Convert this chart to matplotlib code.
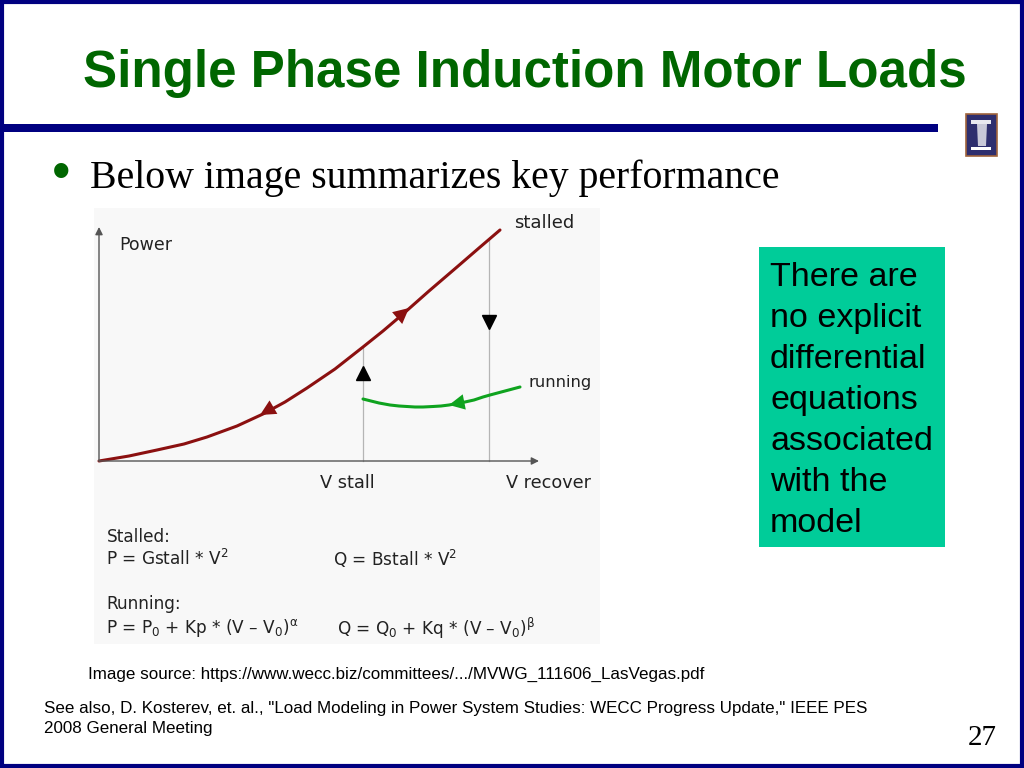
import matplotlib
matplotlib.use("Agg")
import matplotlib.pyplot as plt
from matplotlib.patches import Rectangle, Polygon

plt.rcParams["mathtext.default"] = "regular"

# Datos (V y potencia en unidades arbitrarias)
stalled_v = [0, 0.30, 0.58, 0.85, 1.08, 1.38, 1.64, 1.86, 2.08, 2.36, 2.64, 2.84, 3.04, 3.30, 3.58, 3.80, 4.01]
stalled_p = [0, 0.05, 0.11, 0.17, 0.24, 0.35, 0.47, 0.59, 0.73, 0.92, 1.14, 1.30, 1.47, 1.70, 1.94, 2.13, 2.31]
running_v = [2.64, 2.72, 2.80, 2.91, 3.00, 3.08, 3.16, 3.24, 3.34, 3.42, 3.50, 3.58, 3.66, 3.75, 3.84, 3.91, 4.06, 4.21]
running_p = [0.62, 0.60, 0.58, 0.56, 0.55, 0.545, 0.54, 0.54, 0.545, 0.55, 0.56, 0.575, 0.59, 0.61, 0.64, 0.66, 0.70, 0.74]
v_stall = 2.64
v_recover = 3.90
p_at_stall = 1.14
p_at_recover = 2.21

title = "Single Phase Induction Motor Loads"
bullet_text = "Below image summarizes key performance"
box_lines = ["There are", "no explicit", "differential", "equations", "associated", "with the", "model"]
source_text = "Image source: https://www.wecc.biz/committees/.../MVWG_111606_LasVegas.pdf"
see_also = ['See also, D. Kosterev, et. al., "Load Modeling in Power System Studies: WECC Progress Update," IEEE PES',
            "2008 General Meeting"]
page = "27"

navy = "#000080"
dark_red = "#8B1010"
green = "#0FA31F"
W, H = 1024, 768

fig = plt.figure(figsize=(W / 100, H / 100), dpi=100)

# Capa de la diapositiva, en pixeles
bg = fig.add_axes([0, 0, 1, 1])
bg.set_xlim(0, W)
bg.set_ylim(H, 0)
bg.axis("off")

bg.add_patch(Rectangle((1.5, 2), W - 3.5, H - 4, fill=False, ec=navy, lw=3))
bg.add_patch(Rectangle((3, 124), 935, 8, fc=navy, ec="none"))
bg.text(83, 74, title, color="#006600", fontsize=36.8, fontweight="bold",
        family="Liberation Sans", va="center", ha="left")
bg.text(52, 175, "•", color="#006600", fontsize=38, family="Liberation Sans", va="center")
bg.text(90, 178, bullet_text, color="black", fontsize=28.6, family="Liberation Serif", va="center")

# Logo
bg.add_patch(Rectangle((965.5, 113.5), 31, 42, fc="#2E2E6E", ec="#A0643C", lw=1.2))
bg.add_patch(Polygon([(977, 124), (987, 124), (986, 146), (978, 146)], fc="#C8C8D8", ec="none"))
bg.add_patch(Rectangle((971, 120), 20, 4, fc="#E8E8F0", ec="none"))
bg.add_patch(Rectangle((971, 147), 20, 3, fc="white", ec="none"))

# Panel gris de la imagen
bg.add_patch(Rectangle((94, 208), 506, 436, fc="#F8F8F8", ec="none"))

# Caja de texto
bg.add_patch(Rectangle((759, 247), 186, 300, fc="#00CC99", ec="none"))
for i, line in enumerate(box_lines):
    bg.text(770, 278 + i * 40.9, line, fontsize=24.5, family="Liberation Sans", va="center", color="black")

bg.text(88, 674, source_text, fontsize=12.28, family="Liberation Sans", va="center")
bg.text(44, 708, see_also[0], fontsize=12.27, family="Liberation Sans", va="center")
bg.text(44, 729, see_also[1], fontsize=12.27, family="Liberation Sans", va="center")
bg.text(982, 738, page, fontsize=21, family="Liberation Serif", va="center", ha="center")

# Grafico: el origen cae en (99, 461) px y 1 unidad = 100 px
ax = fig.add_axes([94 / W, 1 - 644 / H, 506 / W, 436 / H])
ax.set_xlim(-0.05, 5.01)
ax.set_ylim(-1.83, 2.53)
ax.axis("off")
ax.patch.set_alpha(0)

ax.annotate("", xy=(0, 2.34), xytext=(0, 0),
            arrowprops=dict(arrowstyle="-|>", color="#555555", lw=1, mutation_scale=11, shrinkA=0, shrinkB=0))
ax.annotate("", xy=(4.40, 0), xytext=(0, 0),
            arrowprops=dict(arrowstyle="-|>", color="#555555", lw=1, mutation_scale=11, shrinkA=0, shrinkB=0))

ax.plot([v_stall, v_stall], [0, p_at_stall], color="#B5B5B5", lw=0.9)
ax.plot([v_recover, v_recover], [0, p_at_recover], color="#B5B5B5", lw=0.9)
ax.plot(stalled_v, stalled_p, color=dark_red, lw=2.2, solid_capstyle="round")
ax.plot(running_v, running_p, color=green, lw=2.2, solid_capstyle="round")

# Flechas sobre las curvas
ax.plot(v_stall, 0.88, marker="^", color="black", ms=10)
ax.plot(v_recover, 1.39, marker="v", color="black", ms=10)
head = dict(arrowstyle="-|>", lw=0, mutation_scale=28, shrinkA=0, shrinkB=0)
ax.annotate("", xy=(3.10, 1.53), xytext=(2.90, 1.36), arrowprops=dict(color=dark_red, **head))
ax.annotate("", xy=(1.61, 0.46), xytext=(1.85, 0.60), arrowprops=dict(color=dark_red, **head))
ax.annotate("", xy=(3.50, 0.56), xytext=(3.75, 0.61), arrowprops=dict(color=green, **head))

lab = dict(family="DejaVu Sans", color="#222222", va="center")
ax.text(0.20, 2.16, "Power", fontsize=12.5, **lab)
ax.text(4.15, 2.38, "stalled", fontsize=13, **lab)
ax.text(4.30, 0.78, "running", fontsize=11.8, **lab)
ax.text(2.21, -0.22, "V stall", fontsize=12.8, **lab)
ax.text(4.07, -0.22, "V recover", fontsize=12.7, **lab)
ax.text(0.08, -0.76, "Stalled:", fontsize=12.2, **lab)
ax.text(0.07, -0.98, "P = Gstall * V$^2$", fontsize=12.2, **lab)
ax.text(2.34, -0.98, "Q = Bstall * V$^2$", fontsize=12.2, **lab)
ax.text(0.07, -1.43, "Running:", fontsize=12.2, **lab)
ax.text(0.07, -1.67, r"P = P$_0$ + Kp * (V – V$_0$)$^\alpha$", fontsize=12.2, **lab)
ax.text(2.38, -1.67, r"Q = Q$_0$ + Kq * (V – V$_0$)$^\beta$", fontsize=12.2, **lab)

fig.savefig("out.png", dpi=100)
